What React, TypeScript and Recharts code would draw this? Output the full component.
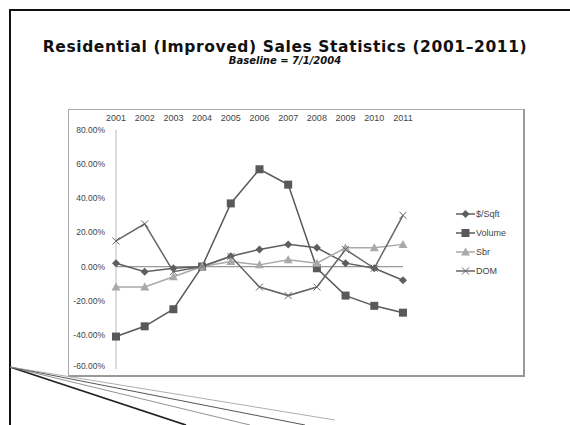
import React from "react";
import { LineChart, Line, XAxis, YAxis, ReferenceLine, Legend } from "recharts";

const years = ["2001", "2002", "2003", "2004", "2005", "2006", "2007", "2008", "2009", "2010", "2011"];
const pricePerSqft = [2, -3, -1, 0, 6, 10, 13, 11, 2, -1, -8];
const volume = [-41, -35, -25, 0, 37, 57, 48, -1, -17, -23, -27];
const sbr = [-12, -12, -6, 0, 3, 1, 4, 2, 11, 11, 13];
const dom = [15, 25, -3, 0, 6, -12, -17, -12, 10, -1, 30];
const yTicks = [80, 60, 40, 20, 0, -20, -40, -60];

const data = years.map((y, i) => ({
  year: y,
  sqft: pricePerSqft[i],
  volume: volume[i],
  sbr: sbr[i],
  dom: dom[i],
}));

type Shape = "diamond" | "square" | "triangle" | "x";

function Marker({ cx, cy, shape, color }: { cx: number; cy: number; shape: Shape; color: string }) {
  if (cx == null || cy == null) return null;
  if (shape === "diamond")
    return <polygon points={`${cx},${cy - 4} ${cx + 4},${cy} ${cx},${cy + 4} ${cx - 4},${cy}`} fill={color} />;
  if (shape === "square") return <rect x={cx - 4} y={cy - 4} width={8} height={8} fill={color} />;
  if (shape === "triangle")
    return <polygon points={`${cx},${cy - 4.5} ${cx + 4.5},${cy + 3.5} ${cx - 4.5},${cy + 3.5}`} fill={color} />;
  return (
    <g stroke={color} strokeWidth={1}>
      <line x1={cx - 3.5} y1={cy - 3.5} x2={cx + 3.5} y2={cy + 3.5} />
      <line x1={cx - 3.5} y1={cy + 3.5} x2={cx + 3.5} y2={cy - 3.5} />
    </g>
  );
}

const SERIES: { key: string; name: string; color: string; shape: Shape }[] = [
  { key: "sqft", name: "$/Sqft", color: "#5e5e5e", shape: "diamond" },
  { key: "volume", name: "Volume", color: "#595959", shape: "square" },
  { key: "sbr", name: "Sbr", color: "#a9a9a9", shape: "triangle" },
  { key: "dom", name: "DOM", color: "#666666", shape: "x" },
];

const tickFont = "'Liberation Sans', sans-serif";

function YTick({ x, y, payload }: any) {
  return (
    <text x={x} y={y} dy={3} textAnchor="end" fill="#444" fontSize={8.5} fontFamily={tickFont}>
      {`${Number(payload.value).toFixed(2)}%`}
    </text>
  );
}

function XTick({ x, y, payload }: any) {
  return (
    <text x={x} y={y} textAnchor="middle" fill="#444" fontSize={9} fontFamily={tickFont}>
      {payload.value}
    </text>
  );
}

function LegendBox() {
  return (
    <div style={{ fontFamily: tickFont, fontSize: 9, color: "#444" }}>
      {SERIES.map((s) => (
        <div key={s.key} style={{ display: "flex", alignItems: "center", height: 19 }}>
          <svg width={19} height={10}>
            <line x1={0} y1={5} x2={19} y2={5} stroke={s.color} strokeWidth={1.5} />
            <Marker cx={9.5} cy={5} shape={s.shape} color={s.color} />
          </svg>
          <span style={{ marginLeft: 1 }}>{s.name}</span>
        </div>
      ))}
    </div>
  );
}

export default function App() {
  return (
    <div style={{ position: "absolute", left: 0, top: 0, width: 570, height: 425, background: "#fff", overflow: "hidden" }}>
      <div style={{ position: "absolute", left: 9, top: 9, width: 600, height: 500, borderTop: "2px solid #111", borderLeft: "2px solid #111" }} />
      <svg width={570} height={425} style={{ position: "absolute", left: 0, top: 0 }}>
        <line x1={10} y1={367} x2={186} y2={425} stroke="#222" strokeWidth={1.8} />
        <line x1={10} y1={367} x2={250} y2={425} stroke="#777" strokeWidth={0.8} />
        <line x1={10} y1={367} x2={305} y2={425} stroke="#555" strokeWidth={1} />
        <line x1={10} y1={367} x2={335} y2={420} stroke="#999" strokeWidth={0.8} />
      </svg>
      <div style={{ position: "absolute", left: 0, top: 38, width: 570, textAlign: "center", fontFamily: "'DejaVu Sans', sans-serif", fontWeight: 700, fontSize: 15.5, letterSpacing: 0.6, color: "#111" }}>
        Residential (Improved) Sales Statistics (2001–2011)
      </div>
      <div style={{ position: "absolute", left: 0, top: 55, width: 570, textAlign: "center", fontFamily: "'DejaVu Sans', sans-serif", fontWeight: 700, fontStyle: "italic", fontSize: 10, color: "#111" }}>
        Baseline = 7/1/2004
      </div>
      <div style={{ position: "absolute", left: 68, top: 109, width: 454, height: 265, border: "1px solid #aaa", borderBottom: "2px solid #999", borderRight: "2px solid #999", background: "#fff" }}>
        <LineChart width={454} height={265} data={data} margin={{ top: 8, right: 70, bottom: 6, left: 0 }}>
          <XAxis
            dataKey="year"
            orientation="top"
            height={12}
            axisLine={false}
            tickLine={false}
            interval={0}
            tick={(p: any) => <XTick {...p} y={11} />}
          />
          <YAxis
            type="number"
            domain={[-60, 80]}
            ticks={yTicks}
            width={47}
            axisLine={{ stroke: "#bbb" }}
            tickLine={false}
            tickMargin={5}
            tick={(p: any) => <YTick {...p} />}
          />
          <ReferenceLine y={0} stroke="#999" strokeWidth={1.2} />
          <Legend layout="vertical" align="right" verticalAlign="middle" content={() => <LegendBox />} wrapperStyle={{ right: 17 }} />
          {SERIES.map((s) => (
            <Line
              key={s.key}
              dataKey={s.key}
              name={s.name}
              stroke={s.color}
              strokeWidth={1.5}
              isAnimationActive={false}
              dot={(p: any) => <Marker key={`${s.key}-${p.index}`} cx={p.cx} cy={p.cy} shape={s.shape} color={s.color} />}
              activeDot={false}
            />
          ))}
        </LineChart>
      </div>
    </div>
  );
}
